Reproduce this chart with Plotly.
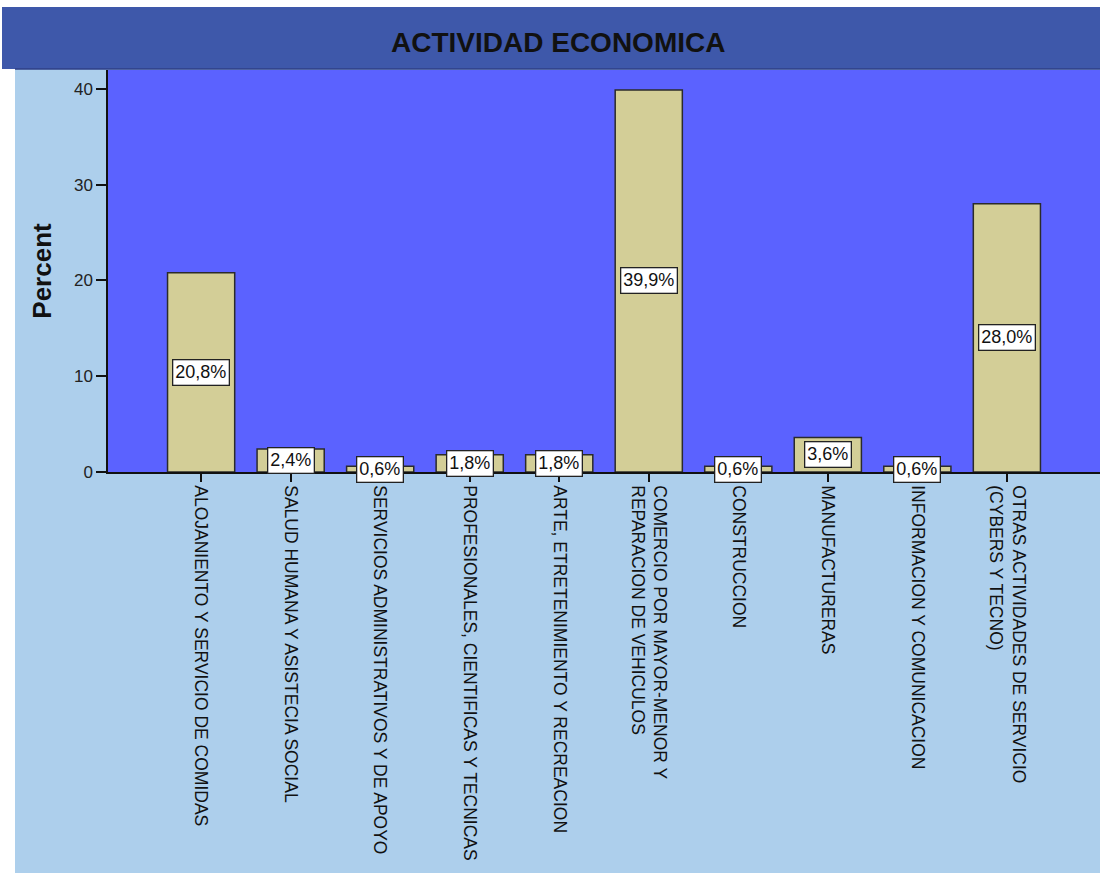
import plotly.graph_objects as go

categories = [
    "ALOJANIENTO Y SERVICIO DE COMIDAS",
    "SALUD HUMANA Y ASISTECIA SOCIAL",
    "SERVICIOS ADMINISTRATIVOS Y DE APOYO",
    "PROFESIONALES, CIENTIFICAS Y TECNICAS",
    "ARTE, ETRETENIMIENTO Y RECREACION",
    "COMERCIO POR MAYOR-MENOR Y<br>REPARACION DE VEHICULOS",
    "CONSTRUCCION",
    "MANUFACTURERAS",
    "INFORMACION Y COMUNICACION",
    "OTRAS ACTIVIDADES DE SERVICIO<br>(CYBERS Y TECNO)",
]
percent = [20.8, 2.4, 0.6, 1.8, 1.8, 39.9, 0.6, 3.6, 0.6, 28.0]
y_ticks = [0, 10, 20, 30, 40]
title_text = "ACTIVIDAD ECONOMICA"
y_title = "Percent"

W, H = 1100, 873
L, R, T, B = 108, 0, 70, 401
pw, ph = W - L - R, H - T - B
FONT = "Liberation Sans, Arial, sans-serif"

def px_x(px):
    return (px - L) / pw

def px_y(py):
    return (H - B - py) / ph

x_idx = list(range(len(categories)))

fig = go.Figure()
fig.add_trace(go.Bar(
    x=x_idx, y=percent, width=0.75,
    marker=dict(color="#D3CE97", line=dict(color="#2b2b2b", width=1.5)),
    hoverinfo="skip",
))

for i, v in enumerate(percent):
    fig.add_annotation(
        x=i, y=v / 2, xref="x", yref="y",
        text=f"{v:.1f}%".replace(".", ","),
        showarrow=False,
        font=dict(family=FONT, size=18, color="#111"),
        bgcolor="white", bordercolor="#222", borderwidth=1.3, borderpad=2,
    )

fig.add_annotation(
    x=px_x(558), y=px_y(42), xref="paper", yref="paper",
    text=f"<b>{title_text}</b>", showarrow=False,
    xanchor="center", yanchor="middle",
    font=dict(family=FONT, size=28, color="#111"),
)

shapes = [
    dict(type="rect", xref="paper", yref="paper", layer="below",
         x0=px_x(2), x1=px_x(1100), y0=px_y(69), y1=px_y(7),
         fillcolor="#3E58AA", line=dict(width=0)),
    dict(type="rect", xref="paper", yref="paper", layer="below",
         x0=px_x(15), x1=px_x(1100), y0=px_y(873), y1=px_y(69),
         fillcolor="#ADCFEC", line=dict(width=0)),
    dict(type="rect", xref="paper", yref="paper", layer="below",
         x0=0, x1=1, y0=0, y1=1,
         fillcolor="#5B62FF", line=dict(width=0)),
    dict(type="line", xref="paper", yref="paper", layer="below",
         x0=px_x(15), x1=px_x(1100), y0=px_y(69), y1=px_y(69),
         line=dict(color="#2F3F86", width=1.5)),
]

fig.update_layout(
    width=W, height=H,
    margin=dict(l=L, r=R, t=T, b=B, pad=0),
    paper_bgcolor="white",
    plot_bgcolor="rgba(0,0,0,0)",
    showlegend=False,
    shapes=shapes,
    font=dict(family=FONT, color="#111"),
)

fig.update_xaxes(
    range=[-1.04, len(categories) - 1 + 1.04],
    tickmode="array", tickvals=x_idx, ticktext=categories,
    tickangle=90,
    tickfont=dict(family=FONT, size=17.5, color="#111"),
    ticks="outside", ticklen=8, tickwidth=1.5, tickcolor="#111",
    showline=True, linecolor="#111", linewidth=1.5,
    showgrid=False, zeroline=False, fixedrange=True,
)
fig.update_yaxes(
    range=[0, 41.98],
    tickmode="array", tickvals=y_ticks,
    tickfont=dict(family=FONT, size=17, color="#222"),
    ticks="outside", ticklen=10, tickwidth=1.5, tickcolor="#111",
    showline=True, linecolor="#111", linewidth=1.5,
    showgrid=False, zeroline=False, fixedrange=True,
    title=dict(text=f"<b>{y_title}</b>", standoff=15,
               font=dict(family=FONT, size=26, color="#111")),
)

fig.write_html(
    "out.html",
    config={"displayModeBar": False},
    post_script="document.body.style.margin='0';document.body.style.padding='0';",
)
